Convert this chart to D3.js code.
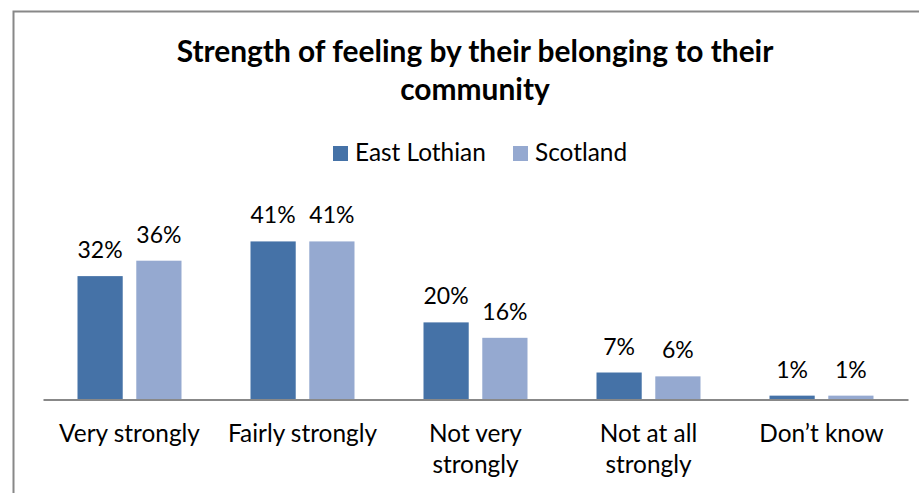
<!DOCTYPE html>
<html><head><meta charset="utf-8">
<script src="https://cdn.jsdelivr.net/npm/d3@7"></script>
<style>html,body{margin:0;padding:0;background:#fff;} svg{display:block;}</style>
</head><body>
<svg id="c" width="919" height="493"></svg>
<script>
const categories = [["Very strongly"], ["Fairly strongly"], ["Not very", "strongly"], ["Not at all", "strongly"], ["Don\u2019t know"]];
const seriesNames = ["East Lothian", "Scotland"];
const eastLothian = [0.32, 0.41, 0.20, 0.07, 0.01];
const scotland = [0.36, 0.41, 0.16, 0.06, 0.01];
const colors = ["#4572A7", "#95A9D0"];
const titleLines = ["Strength of feeling by their belonging to their", "community"];

const svg = d3.select("#c");
const FONT = "Lato, 'Open Sans', sans-serif";

// outer border (top & left visible)
svg.append("path").attr("d", "M13.5,493 V11.5 H919").attr("fill", "none").attr("stroke", "#888").attr("stroke-width", 2);

const x0 = d3.scaleBand().domain(d3.range(categories.length)).range([43, 908]).paddingInner(0).paddingOuter(0);
const x1 = d3.scaleBand().domain(seriesNames).range([x0.bandwidth()/2 - 52, x0.bandwidth()/2 + 52]).paddingInner(12/104*2);
const y = d3.scaleLinear().domain([0, 0.45]).range([399.5, 226]);

const data = categories.map((c, i) => ({i, vals: [eastLothian[i], scotland[i]]}));
const g = svg.append("g");
const groups = g.selectAll("g.cat").data(data).join("g").attr("transform", d => `translate(${x0(d.i)},0)`);
groups.selectAll("rect").data(d => d.vals.map((v, k) => ({v, k}))).join("rect")
  .attr("x", d => x1(seriesNames[d.k]))
  .attr("width", x1.bandwidth())
  .attr("y", d => y(d.v))
  .attr("height", d => y(0) - y(d.v))
  .attr("fill", d => colors[d.k]);
groups.selectAll("text.lbl").data(d => d.vals.map((v, k) => ({v, k}))).join("text").attr("class", "lbl")
  .attr("x", d => x1(seriesNames[d.k]) + x1.bandwidth()/2)
  .attr("y", d => y(d.v) - 18)
  .attr("text-anchor", "middle").attr("font-family", FONT).attr("font-size", 23).attr("fill", "#000")
  .text(d => d3.format(".0%")(d.v));

// baseline axis
const axis = d3.axisBottom(x0).tickSize(0).tickFormat("");
const ax = svg.append("g").attr("transform", "translate(0,399.5)").call(axis);
ax.select(".domain").attr("stroke", "#888").attr("stroke-width", 2);

// category labels
svg.selectAll("text.cat").data(categories.map((c, i) => ({c, i}))).join("text").attr("class", "cat")
  .attr("x", d => x0(d.i) + x0.bandwidth()/2)
  .attr("y", 442)
  .attr("text-anchor", "middle").attr("font-family", FONT).attr("font-size", 24.4).attr("fill", "#000")
  .each(function(d) {
    d3.select(this).selectAll("tspan").data(d.c).join("tspan")
      .attr("x", x0(d.i) + x0.bandwidth()/2).attr("dy", (t, j) => j === 0 ? 0 : 31).text(t => t);
  });

// title
svg.selectAll("text.title").data(titleLines).join("text").attr("class", "title")
  .attr("x", 475).attr("y", (d, i) => 62 + i * 38)
  .attr("text-anchor", "middle").attr("font-family", FONT).attr("font-weight", "bold").attr("font-size", 29.9).attr("fill", "#000")
  .text(d => d);

// legend
const legX = [333, 513];
const leg = svg.selectAll("g.leg").data(seriesNames).join("g").attr("class", "leg")
  .attr("transform", (d, i) => `translate(${legX[i]},146)`);
leg.append("rect").attr("width", 15).attr("height", 15).attr("fill", (d, i) => colors[i]);
leg.append("text").attr("x", 22).attr("y", 15).attr("font-family", FONT).attr("font-size", 24.4).attr("fill", "#000").text(d => d);
</script>
</body></html>
